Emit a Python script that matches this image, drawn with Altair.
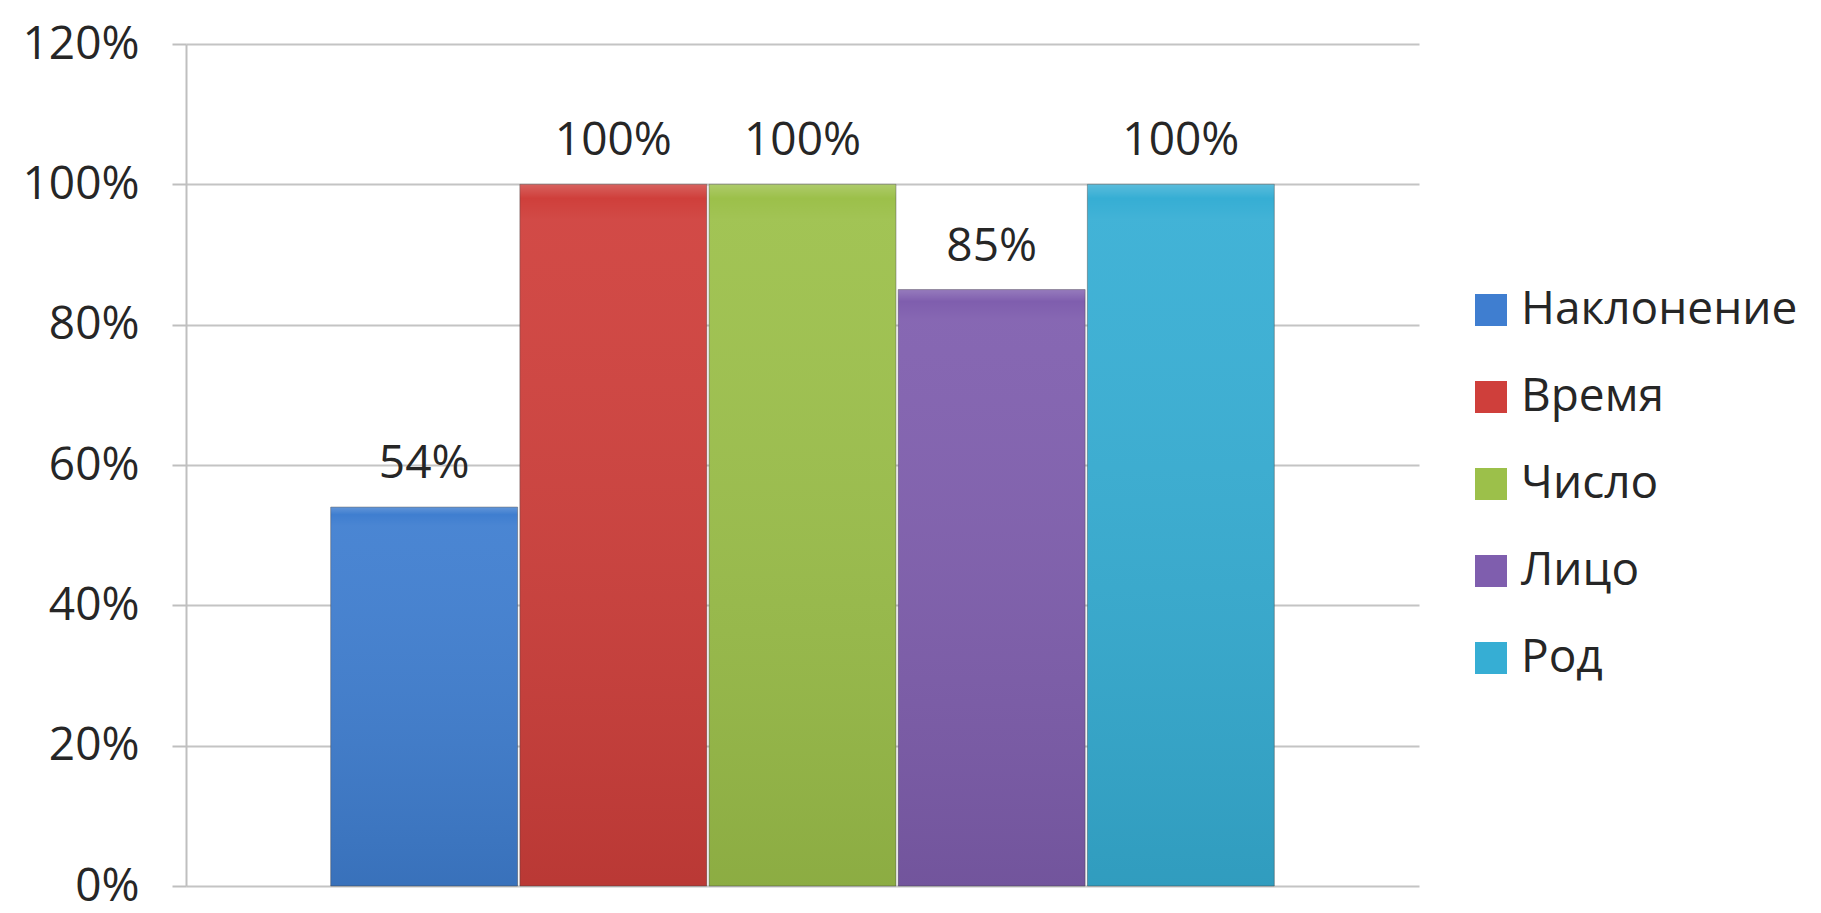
import altair as alt
import pandas as pd

categories = ["Наклонение", "Время", "Число", "Лицо", "Род"]
values = [0.54, 1.00, 1.00, 0.85, 1.00]
colors = ["#3f7ed0", "#cf3f3b", "#9cc04a", "#7f5eae", "#36aed4"]

df = pd.DataFrame({"cat": categories, "val": values})

FONT = "Open Sans"
FS = 46

x = alt.X("cat:N", sort=categories, axis=None,
          scale=alt.Scale(paddingInner=0.012, paddingOuter=0.765))
y = alt.Y("val:Q", scale=alt.Scale(domain=[0, 1.2], nice=False),
          axis=alt.Axis(values=[0, 0.2, 0.4, 0.6, 0.8, 1.0, 1.2], format=".0%",
                        title=None, tickSize=14, tickColor="#bfbfbf", tickWidth=2,
                        domainColor="#bfbfbf", domainWidth=2,
                        gridColor="#c4c4c4", gridWidth=2,
                        labelFont=FONT, labelFontSize=FS, labelColor="#262626",
                        labelPadding=33))

base = alt.Chart(df)

bars = base.mark_bar(stroke="#444444", strokeWidth=1, strokeOpacity=0.45).encode(
    x=x, y=y,
    color=alt.Color("cat:N", sort=categories,
                    scale=alt.Scale(domain=categories, range=colors),
                    legend=alt.Legend(title=None, orient="none", legendX=1282, legendY=243,
                                      symbolType="square", symbolSize=1024,
                                      symbolStrokeWidth=0, labelLimit=0,
                                      labelFont=FONT, labelFontSize=FS,
                                      labelColor="#262626", rowPadding=41,
                                      labelOffset=7)),
)

shade = base.mark_bar(
    color=alt.Gradient(
        gradient="linear", x1=0, y1=0, x2=0, y2=1,
        stops=[alt.GradientStop(color="rgba(255,255,255,0.18)", offset=0),
               alt.GradientStop(color="rgba(255,255,255,0.0)", offset=0.02),
               alt.GradientStop(color="rgba(255,255,255,0.06)", offset=0.05),
               alt.GradientStop(color="rgba(0,0,0,0.10)", offset=1)]),
).encode(x=x, y=y)

labels = base.mark_text(font=FONT, fontSize=FS, color="#262626",
                        baseline="alphabetic", dy=-29).encode(
    x=x, y=y, text=alt.Text("val:Q", format=".0%"))

chart = alt.layer(bars, shade, labels).properties(
    width=1233, height=842,
    autosize=alt.AutoSizeParams(type="none"),
    padding={"left": 178, "top": 36, "right": 390, "bottom": 27},
).configure_view(stroke=None)

chart.save("out.html", embed_options={"renderer": "svg", "actions": False})
